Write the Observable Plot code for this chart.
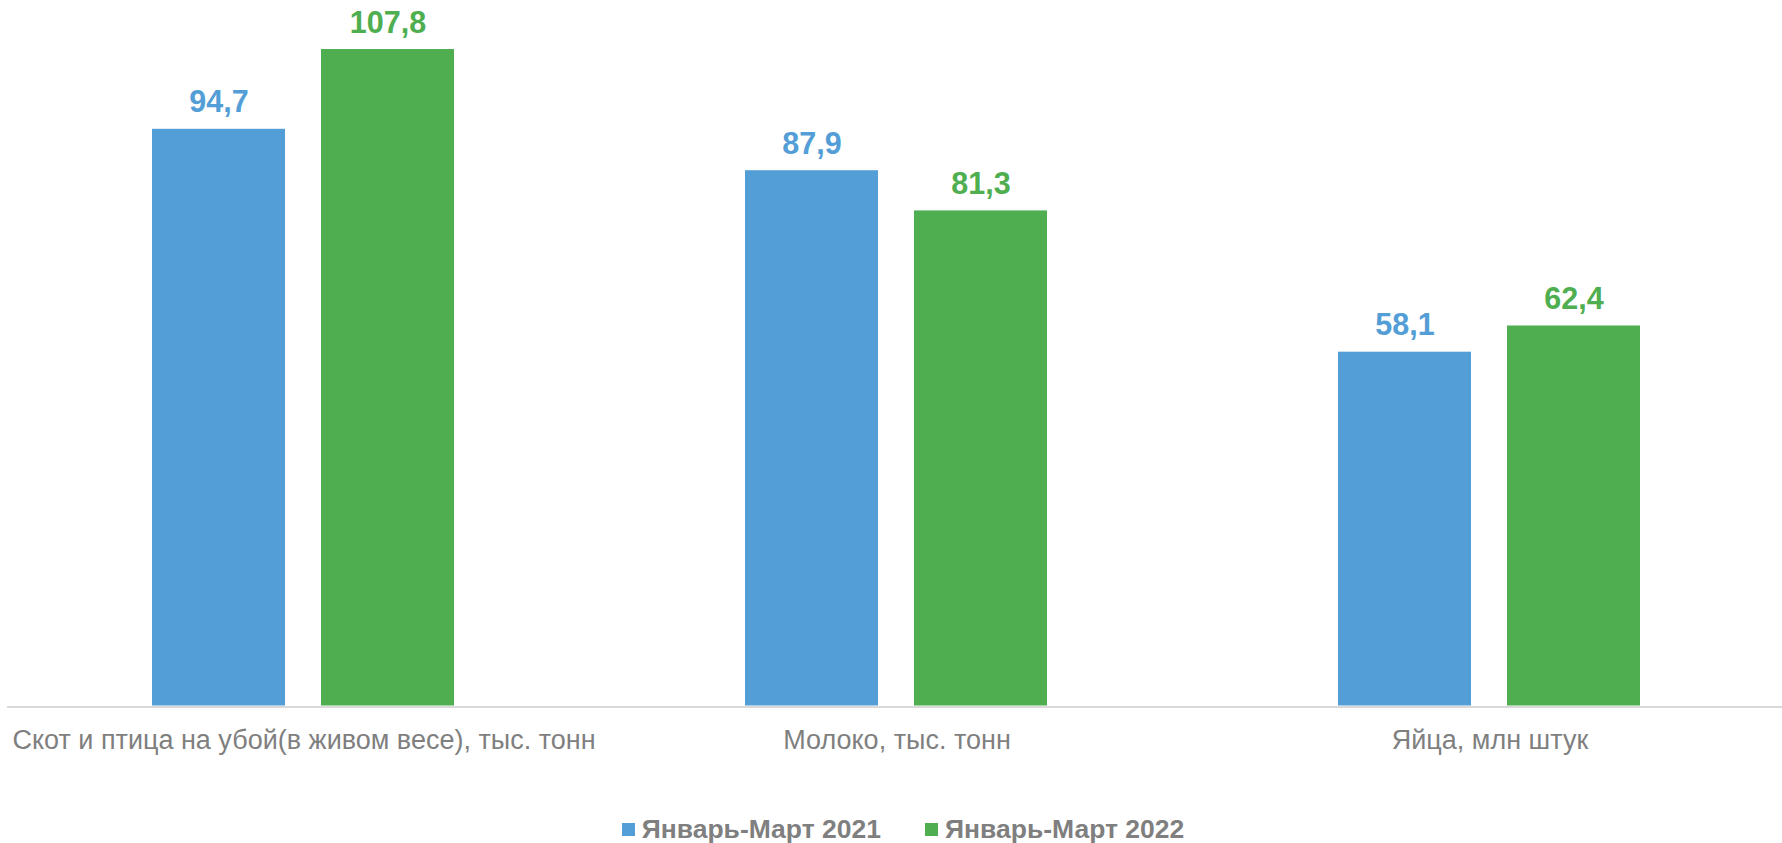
<!DOCTYPE html>
<html>
<head>
<meta charset="utf-8">
<script src="https://cdn.jsdelivr.net/npm/d3@7"></script>
<script src="https://cdn.jsdelivr.net/npm/@observablehq/plot@0.6"></script>
<style>
  html, body { margin: 0; padding: 0; background: #fff; overflow: hidden; }
  #wrap { width: 1782px; height: 843px; overflow: hidden; position: relative; }
  #legend { height: 43px; margin-top: 8px; display: flex; justify-content: center; align-items: center; gap: 44px;
    padding-left: 24px; box-sizing: border-box; font-family: "Liberation Sans", Arial, sans-serif;
    font-weight: bold; font-size: 26.5px; color: #7f7f7f; }
  .item { display: flex; align-items: center; }
  .sw { width: 13px; height: 13px; margin-right: 7px; display: inline-block; }
</style>
</head>
<body>
<div id="wrap">
  <div id="chart"></div>
  <div id="legend"></div>
</div>
<script>
const categories = ["Скот и птица на убой(в живом весе), тыс. тонн", "Молоко, тыс. тонн", "Яйца, млн штук"];
const series = ["Январь-Март 2021", "Январь-Март 2022"];
const values2021 = [94.7, 87.9, 58.1];
const values2022 = [107.8, 81.3, 62.4];
const colors = ["#539ED6", "#4FAE50"];

const data = [];
categories.forEach((c, i) => {
  data.push({category: c, series: series[0], value: values2021[i]});
  data.push({category: c, series: series[1], value: values2022[i]});
});

const fmt = d => d.toFixed(1).replace(".", ",");
const font = "'Liberation Sans', Arial, sans-serif";

const chart = Plot.plot({
  width: 1787,
  height: 800,
  marginLeft: 6,
  marginRight: 0,
  marginTop: 0,
  marginBottom: 94.5,
  style: {fontFamily: font, background: "#fff", maxWidth: "none", overflow: "visible"},
  fx: {domain: categories, padding: 0, label: null},
  x: {domain: series, paddingInner: 0.212, paddingOuter: 0.857, axis: null},
  y: {domain: [0, 115.85], axis: null},
  color: {domain: series, range: colors},
  marks: [
    Plot.ruleY([0], {stroke: "#d9d9d9", strokeWidth: 2, dy: 1}),
    Plot.barY(data, {fx: "category", x: "series", y: "value", fill: "series"}),
    Plot.text(data, {fx: "category", x: "series", y: "value", text: d => fmt(d.value),
      fill: "series", lineAnchor: "bottom", dy: -17, fontSize: 30.5, fontWeight: "bold"}),
    Plot.axisFx({anchor: "bottom", tickSize: 0, tickPadding: 24, fontSize: 27, fill: "#7f7f7f", label: null})
  ]
});
document.getElementById("chart").appendChild(chart);

const legend = document.getElementById("legend");
series.forEach((s, i) => {
  const item = document.createElement("div");
  item.className = "item";
  const sw = document.createElement("span");
  sw.className = "sw";
  sw.style.background = colors[i];
  const t = document.createElement("span");
  t.textContent = s;
  item.appendChild(sw);
  item.appendChild(t);
  legend.appendChild(item);
});
</script>
</body>
</html>
